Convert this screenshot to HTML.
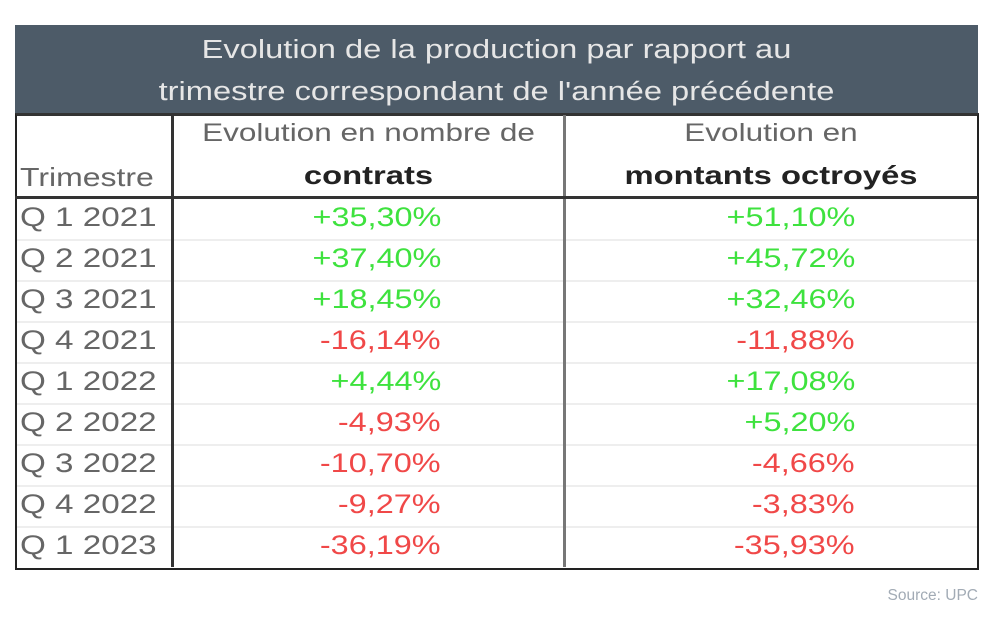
<!DOCTYPE html>
<html><head><meta charset="utf-8"><style>
body{margin:0;width:999px;height:619px;background:#fff;position:relative;font-family:"Liberation Sans",sans-serif;overflow:hidden}
.a{position:absolute;white-space:nowrap}
.hd{left:15px;top:25px;width:963px;height:88px;background:#4d5b68}
.t{color:#e6e6e6;font-size:25.5px;width:963px;text-align:center;left:15px;transform:scaleX(1.28)}
.tab{left:15px;top:113px;width:960px;height:452px;border:2px solid #222;border-top:3px solid #333}
.v{font-size:27px;text-align:right;transform:scaleX(1.2);transform-origin:right center}
.g{color:#3ee23e}.r{color:#f04848}
.q{font-size:27px;color:#666;left:20px;transform:scaleX(1.23);transform-origin:left center}
.rl{left:17px;width:960px;height:2px;background:#eee}
.c{transform:scaleX(1.26)}
</style></head><body>
<div class="a hd"></div>
<div class="a t" style="top:36px">Evolution de la production par rapport au</div>
<div class="a t" style="top:78px">trimestre correspondant de l'année précédente</div>
<div class="a tab"></div>
<div class="a rl" style="top:239px"></div><div class="a rl" style="top:280px"></div><div class="a rl" style="top:321px"></div><div class="a rl" style="top:362px"></div><div class="a rl" style="top:403px"></div><div class="a rl" style="top:444px"></div><div class="a rl" style="top:485px"></div><div class="a rl" style="top:526px"></div>
<div class="a" style="left:171px;top:115px;width:3px;height:452px;background:#333"></div>
<div class="a" style="left:563px;top:115px;width:3px;height:452px;background:#777"></div>
<div class="a" style="left:15px;top:196px;width:963px;height:3px;background:#333"></div>
<div class="a c" style="left:174px;width:389px;text-align:center;top:119px;font-size:25px;color:#666">Evolution en nombre de</div>
<div class="a c" style="left:174px;width:389px;text-align:center;top:160px;font-size:26px;font-weight:bold;color:#222">contrats</div>
<div class="a c" style="left:566px;width:410px;text-align:center;top:119px;font-size:25px;color:#666">Evolution en</div>
<div class="a c" style="left:566px;width:410px;text-align:center;top:160px;font-size:26px;font-weight:bold;color:#222">montants octroyés</div>
<div class="a q" style="top:162px;font-size:26px">Trimestre</div>
<div class="a q" style="top:202px">Q 1 2021</div><div class="a q" style="top:243px">Q 2 2021</div><div class="a q" style="top:284px">Q 3 2021</div><div class="a q" style="top:325px">Q 4 2021</div><div class="a q" style="top:366px">Q 1 2022</div><div class="a q" style="top:407px">Q 2 2022</div><div class="a q" style="top:448px">Q 3 2022</div><div class="a q" style="top:489px">Q 4 2022</div><div class="a q" style="top:530px">Q 1 2023</div>
<div class="a v g" style="right:558px;top:202px">+35,30%</div>
<div class="a v g" style="right:558px;top:243px">+37,40%</div>
<div class="a v g" style="right:558px;top:284px">+18,45%</div>
<div class="a v r" style="right:558px;top:325px">-16,14%</div>
<div class="a v g" style="right:558px;top:366px">+4,44%</div>
<div class="a v r" style="right:558px;top:407px">-4,93%</div>
<div class="a v r" style="right:558px;top:448px">-10,70%</div>
<div class="a v r" style="right:558px;top:489px">-9,27%</div>
<div class="a v r" style="right:558px;top:530px">-36,19%</div>
<div class="a v g" style="right:144px;top:202px">+51,10%</div>
<div class="a v g" style="right:144px;top:243px">+45,72%</div>
<div class="a v g" style="right:144px;top:284px">+32,46%</div>
<div class="a v r" style="right:144px;top:325px">-11,88%</div>
<div class="a v g" style="right:144px;top:366px">+17,08%</div>
<div class="a v g" style="right:144px;top:407px">+5,20%</div>
<div class="a v r" style="right:144px;top:448px">-4,66%</div>
<div class="a v r" style="right:144px;top:489px">-3,83%</div>
<div class="a v r" style="right:144px;top:530px">-35,93%</div>
<div class="a" style="right:21px;top:587px;font-size:15.5px;color:#a2abb5">Source: UPC</div>
</body></html>
